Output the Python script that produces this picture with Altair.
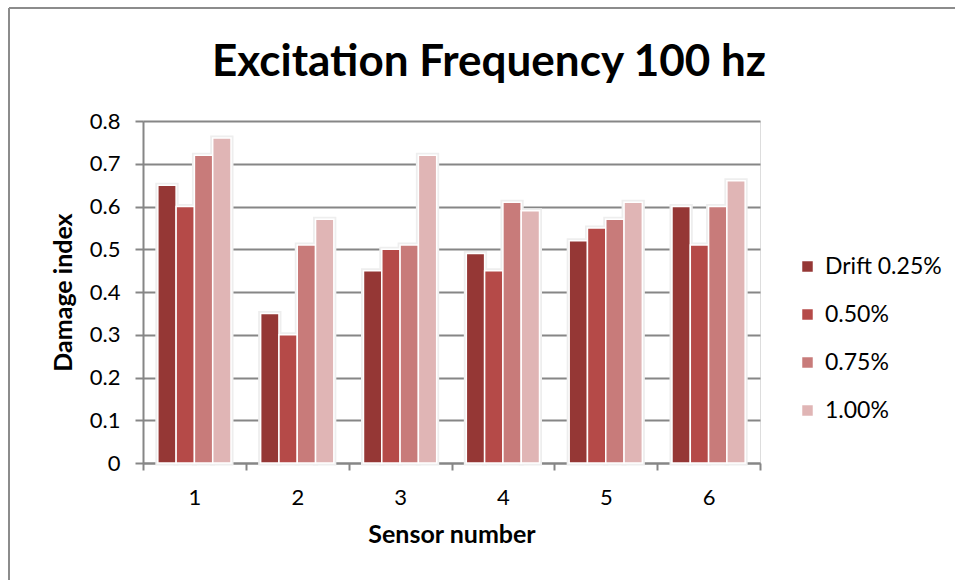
import altair as alt
import pandas as pd

sensors = ["1", "2", "3", "4", "5", "6"]
series = ["Drift 0.25%", "0.50%", "0.75%", "1.00%"]
drift_025 = [0.65, 0.35, 0.45, 0.49, 0.52, 0.60]
drift_050 = [0.60, 0.30, 0.50, 0.45, 0.55, 0.51]
drift_075 = [0.72, 0.51, 0.51, 0.61, 0.57, 0.60]
drift_100 = [0.76, 0.57, 0.72, 0.59, 0.61, 0.66]
colors = ["#953735", "#B54A48", "#C87B7A", "#E0B5B5"]
y_ticks = [0, 0.1, 0.2, 0.3, 0.4, 0.5, 0.6, 0.7, 0.8]
chart_title = "Excitation Frequency 100 hz"

rows = []
for name, vals in zip(series, [drift_025, drift_050, drift_075, drift_100]):
    for s, v in zip(sensors, vals):
        rows.append({"Sensor": s, "Series": name, "Value": v})
df = pd.DataFrame(rows)

FONT = "Lato"
GRID = "#868686"

x_enc = alt.X("Sensor:N", sort=sensors,
              scale=alt.Scale(paddingInner=0, paddingOuter=0),
              axis=alt.Axis(title="Sensor number", labelAngle=0, tickBand="extent",
                            tickSize=7, tickColor=GRID, tickWidth=2,
                            domainColor=GRID, domainWidth=2,
                            labelFontSize=22, labelFont=FONT, labelColor="black",
                            labelPadding=17,
                            titleFont=FONT, titleFontSize=25, titleFontWeight="bold",
                            titleColor="black", titlePadding=14))
xoff_enc = alt.XOffset("Series:N", sort=series,
                       scale=alt.Scale(paddingOuter=0.81, paddingInner=0))
y_enc = alt.Y("Value:Q", scale=alt.Scale(domain=[0, 0.8], nice=False),
              axis=alt.Axis(title="Damage index", values=y_ticks,
                            format="~g", grid=True, gridColor=GRID, gridWidth=2,
                            tickSize=8, tickColor=GRID, tickWidth=2,
                            domainColor=GRID, domainWidth=2,
                            labelFontSize=22, labelFont=FONT, labelColor="black",
                            labelPadding=15,
                            titleFont=FONT, titleFontSize=25, titleFontWeight="bold",
                            titleColor="black", titlePadding=13))

base = alt.Chart(df)

shadow = base.mark_bar(color="#e4e4e4", stroke="#eeeeee", strokeWidth=5).encode(
    x=x_enc, xOffset=xoff_enc, y=y_enc)

bars = base.mark_bar(stroke="white", strokeWidth=1.5).encode(
    x=x_enc, xOffset=xoff_enc, y=y_enc,
    color=alt.Color("Series:N", sort=series,
                    scale=alt.Scale(domain=series, range=colors),
                    legend=alt.Legend(title=None, orient="none",
                                      legendX=653, legendY=134,
                                      symbolType="square", symbolSize=110,
                                      symbolStrokeWidth=0,
                                      labelFont=FONT, labelFontSize=23,
                                      labelColor="black", rowPadding=24,
                                      labelOffset=6)),
)

frame_left = alt.Chart().mark_rule(color="#8c8c8c", strokeWidth=2).encode(
    x=alt.value(-134), y=alt.value(-113), y2=alt.value(500))
frame_top = alt.Chart().mark_rule(color="#8c8c8c", strokeWidth=2).encode(
    x=alt.value(-134), x2=alt.value(900), y=alt.value(-113))

title = alt.Chart().mark_text(text=chart_title, font=FONT, fontSize=44,
                              fontWeight="bold", color="black",
                              align="center", baseline="middle").encode(
    x=alt.value(346), y=alt.value(-58))

chart = alt.layer(frame_left, frame_top, shadow, bars, title).properties(
    width=617, height=342,
    padding={"left": 143, "top": 121, "right": 195, "bottom": 117},
    autosize=alt.AutoSizeParams(type="none"),
).configure_view(stroke=None).configure(background="white")

chart.save("out.html", embed_options={"renderer": "svg", "actions": False})
